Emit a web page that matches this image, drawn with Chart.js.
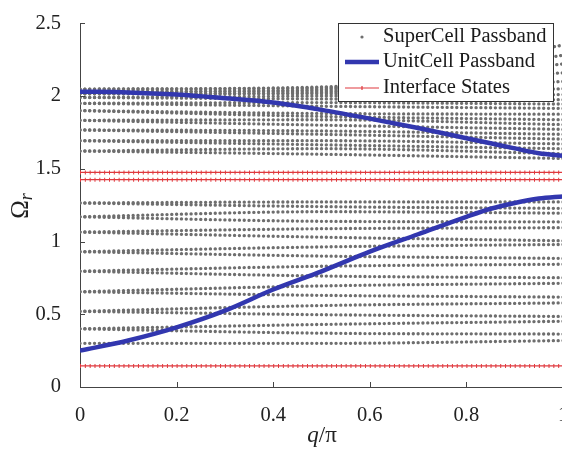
<!DOCTYPE html>
<html>
<head>
<meta charset="utf-8">
<script src="https://cdn.jsdelivr.net/npm/chart.js"></script>
<style>
  html, body { margin: 0; padding: 0; background: #fff; overflow: hidden; }
  #wrap { width: 600px; height: 449px; }
</style>
</head>
<body>
<div id="wrap"><canvas id="bandChart"></canvas></div>
<script>
// tick labels
var xTickLabels = ['0', '0.2', '0.4', '0.6', '0.8', '1'];
var yTickLabels = ['0', '0.5', '1', '1.5', '2', '2.5'];

// unit cell passband (blue curves)
var qUnit = [0, 0.1, 0.2, 0.3, 0.4, 0.5, 0.6, 0.7, 0.8, 0.85, 0.9, 0.95, 1];
var unitLower = [0.25, 0.32, 0.41, 0.525, 0.67, 0.795, 0.93, 1.05, 1.17, 1.225, 1.265, 1.295, 1.31];
var unitUpper = [2.03, 2.025, 2.01, 1.985, 1.955, 1.905, 1.845, 1.78, 1.71, 1.675, 1.64, 1.607, 1.59];

// supercell passband: each row is one band, values at qBand
var qBand = [0, 0.5, 1];
var superBands = [
	[0.300, 0.300, 0.319],
	[0.400, 0.370, 0.364],
	[0.400, 0.430, 0.452],
	[0.520, 0.497, 0.485],
	[0.520, 0.560, 0.578],
	[0.655, 0.630, 0.618],
	[0.655, 0.695, 0.713],
	[0.796, 0.763, 0.751],
	[0.796, 0.830, 0.844],
	[0.930, 0.900, 0.884],
	[0.930, 0.963, 0.980],
	[1.065, 1.030, 1.005],
	[1.065, 1.088, 1.095],
	[1.170, 1.139, 1.135],
	[1.170, 1.205, 1.195],
	[1.265, 1.240, 1.228],
	[1.265, 1.272, 1.272],
	[1.622, 1.600, 1.571],
	[1.622, 1.638, 1.604],
	[1.693, 1.665, 1.638],
	[1.693, 1.693, 1.671],
	[1.767, 1.737, 1.704],
	[1.767, 1.760, 1.737],
	[1.833, 1.800, 1.771],
	[1.833, 1.837, 1.804],
	[1.900, 1.860, 1.837],
	[1.900, 1.880, 1.875],
	[1.950, 1.930, 1.915],
	[1.950, 1.955, 1.945],
	[1.990, 1.980, 1.975],
	[1.990, 2.000, 2.010],
	[2.015, 2.015, 2.050],
	[2.015, 2.025, 2.100],
	[2.030, 2.035, 2.160],
	[2.030, 2.045, 2.220],
	[2.048, 2.055, 2.280],
	[2.048, 2.062, 2.350]
];

// interface states (red lines)
var interfaceLevels = [0.145, 1.425, 1.475];

var grayDot = '#6e6e6e';
var blue = 'rgb(50,55,175)';
var red = '#e0393e';
var serif = "'Liberation Serif', 'Times New Roman', serif";

function pts(xs, ys) {
	var out = [];
	for (var i = 0; i < xs.length; i++) out.push({ x: xs[i], y: ys[i] });
	return out;
}

var datasets = [];
datasets.push({
	label: 'UnitCell Passband', data: pts(qUnit, unitLower), order: 0,
	borderColor: blue, borderWidth: 4.5, pointRadius: 0, cubicInterpolationMode: 'monotone'
});
datasets.push({
	label: 'UnitCell Passband', data: pts(qUnit, unitUpper), order: 0,
	borderColor: blue, borderWidth: 4.5, pointRadius: 0, cubicInterpolationMode: 'monotone'
});
interfaceLevels.forEach(function(v) {
	datasets.push({
		label: 'Interface States', data: pts([0, 1], [v, v]), order: 1,
		borderColor: red, borderWidth: 1.2, pointRadius: 0
	});
	// marker ticks along the line
	datasets.push({
		label: 'Interface States', data: pts([0, 1], [v, v]), order: 1,
		borderColor: red, borderWidth: 4, borderDash: [1, 3.83], borderCapStyle: 'butt', pointRadius: 0
	});
});
superBands.forEach(function(b) {
	datasets.push({
		label: 'SuperCell Passband', data: pts(qBand, b), order: 2,
		borderColor: grayDot, borderWidth: 3.3, borderDash: [0.1, 4.73], borderCapStyle: 'round',
		pointRadius: 0, cubicInterpolationMode: 'monotone'
	});
});

// inward ticks, axis titles and the boxed legend
var decorPlugin = {
	id: 'decor',
	afterDraw: function(chart) {
		var ctx = chart.ctx, xs = chart.scales.x, ys = chart.scales.y, a = chart.chartArea;
		ctx.save();
		ctx.strokeStyle = '#444';
		ctx.lineWidth = 1;
		ctx.beginPath();
		xs.ticks.forEach(function(t) {
			var px = Math.round(xs.getPixelForValue(t.value)) + 0.5;
			ctx.moveTo(px, a.bottom); ctx.lineTo(px, a.bottom - 5);
		});
		ys.ticks.forEach(function(t) {
			var py = Math.round(ys.getPixelForValue(t.value)) + 0.5;
			ctx.moveTo(a.left, py); ctx.lineTo(a.left + 5, py);
		});
		ctx.stroke();

		// x title: q/π
		ctx.fillStyle = '#222';
		ctx.textBaseline = 'alphabetic';
		ctx.font = 'italic 23px ' + serif;
		var wq = ctx.measureText('q').width;
		ctx.font = '23px ' + serif;
		var wr = ctx.measureText('/\u03c0').width;
		var x0 = 322 - (wq + wr) / 2;
		ctx.font = 'italic 23px ' + serif;
		ctx.fillText('q', x0, 442);
		ctx.font = '23px ' + serif;
		ctx.fillText('/\u03c0', x0 + wq, 442);

		// y title: Omega_r
		ctx.translate(28, 206);
		ctx.rotate(-Math.PI / 2);
		ctx.font = '25px ' + serif;
		var wo = ctx.measureText('\u03a9').width;
		ctx.font = 'italic 18px ' + serif;
		var ws = ctx.measureText('r').width;
		var sx = -(wo + ws) / 2;
		ctx.font = '25px ' + serif;
		ctx.fillText('\u03a9', sx, 0);
		ctx.font = 'italic 18px ' + serif;
		ctx.fillText('r', sx + wo, 4);
		ctx.restore();

		// legend
		ctx.save();
		ctx.fillStyle = '#fff';
		ctx.fillRect(338, 23, 215, 78);
		ctx.strokeStyle = '#333';
		ctx.lineWidth = 1;
		ctx.strokeRect(338.5, 23.5, 215, 78);
		ctx.fillStyle = grayDot;
		ctx.beginPath(); ctx.arc(362, 37, 1.6, 0, Math.PI * 2); ctx.fill();
		ctx.strokeStyle = blue; ctx.lineWidth = 4.5;
		ctx.beginPath(); ctx.moveTo(345, 62); ctx.lineTo(379, 62); ctx.stroke();
		ctx.strokeStyle = red; ctx.lineWidth = 1.2;
		ctx.beginPath(); ctx.moveTo(345, 88); ctx.lineTo(379, 88);
		ctx.moveTo(362, 86); ctx.lineTo(362, 90); ctx.stroke();
		ctx.fillStyle = '#1a1a1a';
		ctx.font = '20.5px ' + serif;
		ctx.textBaseline = 'middle';
		ctx.fillText('SuperCell Passband', 383, 37);
		ctx.fillText('UnitCell Passband', 383, 62);
		ctx.fillText('Interface States', 383, 88);
		ctx.restore();
	}
};

var ctx = document.getElementById('bandChart').getContext('2d');
window.bandChart = new Chart(ctx, {
	type: 'line',
	data: { datasets: datasets },
	options: {
		responsive: true,
		maintainAspectRatio: false,
		animation: false,
		events: [],
		layout: { padding: { top: 12, right: 37, left: 0, bottom: 0 } },
		plugins: { legend: { display: false }, tooltip: { enabled: false } },
		scales: {
			x: {
				type: 'linear', min: 0, max: 1,
				afterFit: function(s) { s.height = 62; },
				grid: { display: false },
				border: { display: true, color: '#444', width: 1 },
				ticks: {
					stepSize: 0.2, padding: 8, color: '#222', maxRotation: 0,
					font: { family: serif, size: 20.5 },
					callback: function(v, i) { return xTickLabels[i]; }
				}
			},
			y: {
				type: 'linear', min: 0, max: 2.5,
				afterFit: function(s) { s.width = 80; },
				grid: { display: false },
				border: { display: true, color: '#444', width: 1 },
				ticks: {
					stepSize: 0.5, padding: 11, color: '#222',
					font: { family: serif, size: 20.5 },
					callback: function(v, i) { return yTickLabels[i]; }
				}
			}
		}
	},
	plugins: [decorPlugin]
});
</script>
</body>
</html>
